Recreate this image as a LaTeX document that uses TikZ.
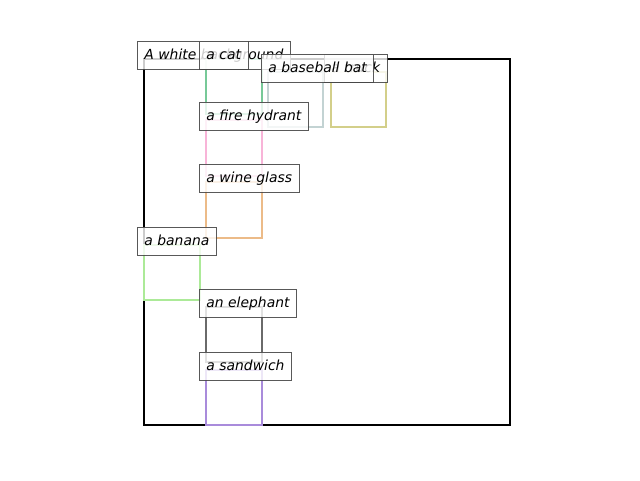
\documentclass[tikz,border=0pt]{standalone}
\usepackage{fontspec}
\setmainfont{DejaVu Sans}
\begin{document}
\begin{tikzpicture}[x=1pt,y=-1pt,
  region/.style={line width=2.8pt},
  tag/.style={anchor=base west, inner xsep=7pt, inner ysep=0pt,
    text height=18pt, text depth=10pt,
    fill=white, fill opacity=0.8, text opacity=1,
    draw=black!72, draw opacity=0.9, line width=0.9pt,
    font=\fontsize{13.9}{16}\selectfont\itshape}]
\definecolor{cGreen}{HTML}{77C998}
\definecolor{cPink}{HTML}{F8B4D8}
\definecolor{cOrange}{HTML}{ECBB88}
\definecolor{cLime}{HTML}{ACEA98}
\definecolor{cGray}{HTML}{6A6A6A}
\definecolor{cPurple}{HTML}{A98BDB}
\definecolor{cSlate}{HTML}{C3D3D3}
\definecolor{cOlive}{HTML}{D3CF8A}
\useasboundingbox (0,0) rectangle (640,480);

% outer scene frame
\draw[line width=2.4pt, black] (144,59) rectangle (510,425);

% object regions
\draw[region, cGreen]  (206,59)  rectangle (262,114);
\draw[region, cSlate]  (268,72)  rectangle (323,127);
\draw[region, cOlive]  (331,72)  rectangle (386,127);
\draw[region, cPink]   (206,120) rectangle (262,176);
\draw[region, cOrange] (206,182) rectangle (262,238);
\draw[region, cLime]   (144,245) rectangle (200,300);
\draw[region, cGray]   (206,307) rectangle (262,362);
\draw[region, cPurple] (206,370) rectangle (262,425);

% captions at the top-left corner of each region
\node[tag] (bg)       at (137,59)  {A white background};
\node[tag] (cat)      at (199,59)  {a cat};
\node[tag] (truck)    at (324,72)  {a truck};
\node[tag] (bat)      at (261,72)  {a baseball bat};
\node[tag] (hydrant)  at (199,120) {a fire hydrant};
\node[tag] (wine)     at (199,182) {a wine glass};
\node[tag] (banana)   at (137,245) {a banana};
\node[tag] (elephant) at (199,307) {an elephant};
\node[tag] (sandwich) at (199,370) {a sandwich};
\end{tikzpicture}
\end{document}
